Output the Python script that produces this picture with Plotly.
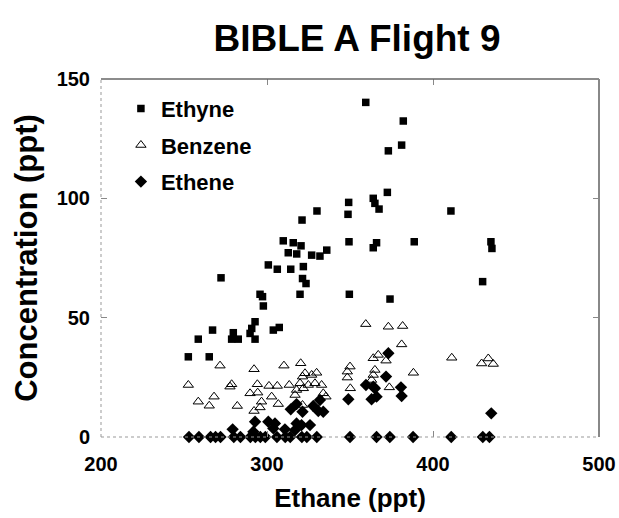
import plotly.graph_objects as go

# ---- data ----
ethyne_x = [359.5, 382.1, 381.1, 373.1, 372.5, 364.0, 365.0, 367.5, 349.2, 348.8,
            330.1, 321.1, 410.8, 349.4, 366.0, 364.0, 388.7, 434.9, 435.5, 309.8,
            315.8, 320.5, 336.0, 312.8, 317.9, 326.9, 331.9, 300.8, 306.2, 314.3,
            321.9, 272.3, 321.4, 323.5, 429.9, 295.8, 297.3, 297.8, 319.9, 349.6,
            374.1, 292.8, 290.8, 289.8, 292.8, 267.2, 258.6, 279.7, 278.7, 282.7,
            303.8, 307.4, 252.6, 265.2]
ethyne_y = [140.2, 132.4, 122.3, 119.9, 102.5, 100.0, 97.9, 95.5, 98.3, 93.3,
            94.7, 90.9, 94.7, 81.8, 81.4, 79.3, 81.8, 81.8, 79.0, 82.2,
            81.4, 80.1, 78.3, 77.2, 76.7, 76.2, 75.8, 72.1, 70.3, 70.3,
            71.4, 66.7, 66.4, 64.3, 65.1, 59.8, 58.8, 54.9, 59.8, 59.8,
            57.8, 48.3, 45.5, 43.4, 41.0, 44.8, 41.0, 43.7, 41.0, 41.0,
            44.8, 45.9, 33.6, 33.6]

benzene_x = [359.5, 373.1, 381.7, 381.1, 364.0, 367.0, 371.7, 350.0, 348.4, 348.4,
             350.2, 364.0, 363.0, 365.0, 373.7, 388.2, 411.3, 429.3, 433.3, 436.3,
             271.7, 292.2, 310.2, 320.3, 252.6, 278.7, 277.7, 258.6, 268.1, 265.2,
             282.1, 294.2, 289.8, 294.4, 301.2, 306.2, 313.4, 302.8, 306.8, 296.7,
             295.8, 292.2, 321.4, 322.9, 326.9, 329.9, 319.9, 324.9, 328.9, 332.9,
             317.8, 321.9, 316.9, 333.9, 335.5, 321.4]
benzene_y = [47.3, 46.2, 46.5, 38.8, 33.0, 34.4, 32.0, 29.5, 27.4, 24.9,
             20.4, 26.0, 23.9, 28.1, 20.8, 26.9, 33.2, 30.8, 32.9, 30.6,
             29.9, 28.4, 29.9, 30.9, 21.8, 22.1, 21.1, 14.8, 16.9, 13.1,
             13.0, 22.1, 18.3, 18.6, 21.4, 21.4, 21.8, 16.9, 13.8, 14.8,
             12.4, 10.9, 25.3, 26.7, 26.0, 26.9, 22.5, 21.8, 22.5, 21.8,
             19.7, 20.4, 17.6, 18.3, 16.9, 13.4]

ethene_x = [253, 259, 266, 269, 272, 280, 284, 290, 293, 296, 299, 306, 311, 314,
            321, 324, 330, 350, 366, 374, 388, 411, 430, 434,
            279.3, 292.8, 291.8, 300.8, 304.8, 303.8, 310.8, 317.8, 320.8, 325.9,
            316.9, 314.3, 317.8, 321.4, 327.9, 330.9, 333.9, 331.9, 349.0, 359.6,
            373.1, 364.0, 363.0, 366.0, 365.0, 371.7, 380.7, 381.1, 435.1]
ethene_y = [0, 0, 0, 0, 0, 0, 0, 0, 0, 0, 0, 0, 0, 0,
            0, 0, 0, 0, 0, 0, 0, 0, 0, 0,
            3.2, 6.4, 2.2, 6.4, 5.7, 3.6, 3.2, 5.7, 5.0, 5.0,
            2.9, 11.6, 13.8, 10.6, 13.0, 10.9, 10.6, 15.5, 15.8, 21.8,
            35.1, 21.1, 15.8, 16.9, 20.4, 25.3, 20.8, 17.2, 9.9]

x_ticks = [200, 300, 400, 500]
y_ticks = [0, 50, 100, 150]

FONT = "Liberation Sans, Arial, Helvetica, sans-serif"

fig = go.Figure()
fig.add_trace(go.Scatter(x=ethyne_x, y=ethyne_y, mode="markers", name="Ethyne",
                         legendgroup="a", cliponaxis=False,
                         marker=dict(symbol="square", size=7.5, color="black")))
fig.add_trace(go.Scatter(x=benzene_x, y=benzene_y, mode="markers", name="Benzene",
                         legendgroup="b", cliponaxis=False,
                         marker=dict(symbol="triangle-up-open", size=9, color="black",
                                     line=dict(width=1, color="black"))))
fig.add_trace(go.Scatter(x=ethene_x, y=ethene_y, mode="markers", name="Ethene",
                         legendgroup="c", cliponaxis=False,
                         marker=dict(symbol="diamond", size=9.5, color="black")))

axis_common = dict(showgrid=False, zeroline=False, showline=False, automargin=False,
                   ticks="inside", ticklen=6, tickcolor="#888", mirror="ticks",
                   tickfont=dict(family=FONT, size=20, color="black", weight="bold"))

fig.update_layout(
    width=619, height=518,
    margin=dict(l=101, r=20, t=79, b=81),
    paper_bgcolor="white", plot_bgcolor="white",
    title=dict(text="BIBLE A Flight 9", x=357 / 619, xanchor="center",
               y=1 - 38 / 518, yanchor="middle", yref="container",
               font=dict(family=FONT, size=37, color="black", weight="bold")),
    xaxis=dict(range=[200, 500], tickvals=x_ticks, ticktext=[str(v) for v in x_ticks],
               ticklabelstandoff=13,
               title=dict(text="Ethane (ppt)", standoff=14,
                          font=dict(family=FONT, size=26, color="black", weight="bold")),
               **axis_common),
    yaxis=dict(range=[0, 150], tickvals=y_ticks, ticktext=[str(v) for v in y_ticks],
               ticklabelstandoff=10,
               title=dict(text="Concentration (ppt)", standoff=9,
                          font=dict(family=FONT, size=31, color="black", weight="bold")),
               **axis_common),
    legend=dict(x=0.04, y=0.976, xanchor="left", yanchor="top",
                bgcolor="rgba(0,0,0,0)", tracegroupgap=5,
                font=dict(family=FONT, size=22, color="black", weight="bold")),
    showlegend=True,
    shapes=[
        dict(type="line", xref="paper", yref="paper", x0=0, x1=1, y0=1, y1=1,
             line=dict(color="#666", width=1.5)),
        dict(type="line", xref="paper", yref="paper", x0=1, x1=1, y0=0, y1=1,
             line=dict(color="#888", width=2)),
        dict(type="line", xref="paper", yref="paper", x0=0, x1=0, y0=0, y1=1,
             line=dict(color="#999", width=1, dash="dot")),
        dict(type="line", xref="paper", yref="paper", x0=0, x1=1, y0=0, y1=0,
             line=dict(color="#999", width=1, dash="dot")),
    ],
)

fig.write_html("out.html", config={"displayModeBar": False},
               post_script="document.body.style.margin='0';document.body.style.overflow='hidden';")
